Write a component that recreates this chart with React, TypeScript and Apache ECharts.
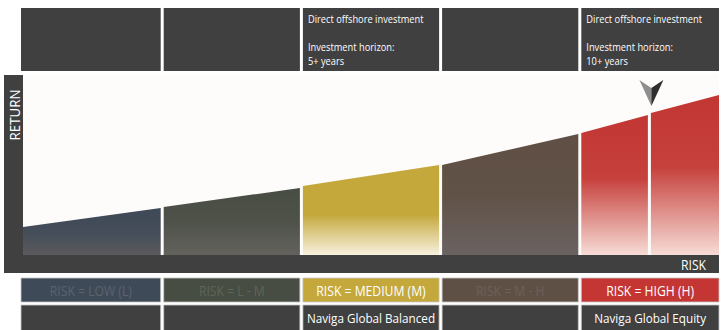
import React, { useEffect, useRef } from "react";
import * as echarts from "echarts";

// ---- data ----
const riskLabels = ["RISK = LOW (L)", "RISK = L - M", "RISK = MEDIUM (M)", "RISK = M - H", "RISK = HIGH (H)"];
const fundNames = ["", "", "Naviga Global Balanced", "", "Naviga Global Equity"];
const topNotes = [
  "",
  "",
  "Direct offshore investment\n\nInvestment horizon:\n5+ years",
  "",
  "Direct offshore investment\n\nInvestment horizon:\n10+ years",
];
const segStart = [0, 1, 2, 3, 4, 4.5];
const segEnd = [1, 2, 3, 4, 4.5, 5];
const returnStart = [28, 48, 69, 90, 122, 142];
const returnEnd = [47, 67, 90, 121, 140, 160];
const segBand = [0, 1, 2, 3, 4, 4];
const fundMarker = 4.5;
const yAxisName = "RETURN";
const xAxisName = "RISK";

// ---- styles / layout ----
const bandTop = ["#3e4857", "#484d43", "#c4a83c", "#5f4f44", "#c23633"];
const bandMid = ["#454e59", "#4e5249", "#c4a83c", "#615247", "#c6403c"];
const bandBottom = ["#5b5a5e", "#63625d", "#f8f1de", "#6a6262", "#f7dcd6"];
const bandMidStop = [0.55, 0.5, 0.55, 0.5, 0.45];
const labelBg = ["#3f4a58", "#474d43", "#c4a83c", "#5f5046", "#c43634"];
const labelFg = ["#5a6371", "#5e6558", "#ffffff", "#6e6058", "#ffffff"];
const DARK = "#404040";
const FONT = "'Open Sans', sans-serif";
const GL = 23, GT = 75, GW = 696, GH = 180;
const XMAX = 5, YMAX = 180;
const colW = GW / XMAX;
const NARROW = 0.87;

function colBox(i: number) {
  let x0 = GL + i * colW + 1.5;
  let x1 = GL + (i + 1) * colW - 1.5;
  if (i === 0) x0 = 21;
  if (i === XMAX - 1) x1 = 719;
  return { x: x0, w: x1 - x0 };
}

export default function App() {
  const ref = useRef<HTMLDivElement>(null);
  useEffect(() => {
    if (!ref.current) return;
    const chart = echarts.init(ref.current, undefined, { renderer: "svg" });
    const segData = segStart.map((s, i) => [s, segEnd[i], returnStart[i], returnEnd[i], segBand[i]]);

    const graphics: any[] = [];
    // y axis bar + name
    graphics.push({ type: "rect", shape: { x: 4, y: GT, width: GL - 4, height: GH + 18 }, style: { fill: DARK }, z: 10 });
    graphics.push({
      type: "text",
      x: 14,
      y: 115,
      rotation: Math.PI / 2,
      scaleX: 0.95,
      style: { text: yAxisName, fill: "#ffffff", font: `14px ${FONT}`, align: "center", verticalAlign: "middle" },
      z: 11,
    });
    // x axis bar + name
    graphics.push({ type: "rect", shape: { x: 4, y: GT + GH, width: 715, height: 18 }, style: { fill: DARK }, z: 10 });
    graphics.push({
      type: "text",
      x: 706,
      y: GT + GH + 10,
      scaleX: NARROW,
      style: { text: xAxisName, fill: "#ffffff", font: `14px ${FONT}`, align: "right", verticalAlign: "middle" },
      z: 11,
    });
    for (let i = 0; i < XMAX; i++) {
      const b = colBox(i);
      // top note boxes
      graphics.push({ type: "rect", shape: { x: b.x, y: 8, width: b.w, height: 63 }, style: { fill: DARK }, z: 5 });
      if (topNotes[i]) {
        graphics.push({
          type: "text",
          x: b.x + 5,
          y: 12,
          scaleX: 0.93,
          style: { text: topNotes[i], fill: "#ffffff", font: `10px ${FONT}`, lineHeight: 14, align: "left", verticalAlign: "top" },
          z: 6,
        });
      }
      // risk label boxes
      graphics.push({
        type: "rect",
        shape: { x: b.x, y: 278, width: b.w, height: 24 },
        style: { fill: labelBg[i], stroke: "#c8c8c8", lineWidth: 0.8 },
        z: 5,
      });
      graphics.push({
        type: "text",
        x: b.x + b.w / 2,
        y: 291,
        scaleX: NARROW,
        style: { text: riskLabels[i], fill: labelFg[i], font: `14px ${FONT}`, align: "center", verticalAlign: "middle" },
        z: 6,
      });
      // fund boxes
      graphics.push({
        type: "rect",
        shape: { x: b.x, y: 305, width: b.w, height: 26 },
        style: { fill: DARK, stroke: "#c8c8c8", lineWidth: 0.8 },
        z: 5,
      });
      if (fundNames[i]) {
        graphics.push({
          type: "text",
          x: b.x + b.w / 2,
          y: 318.5,
          scaleX: 0.9,
          style: { text: fundNames[i], fill: "#ffffff", font: `13px ${FONT}`, align: "center", verticalAlign: "middle" },
          z: 6,
        });
      }
    }
    // fund marker arrow
    const mx = GL + fundMarker * colW + 2;
    graphics.push({
      type: "polygon",
      shape: { points: [[mx - 12, 80], [mx, 88], [mx, 106]] },
      style: { fill: "#8e8e8e" },
      z: 12,
    });
    graphics.push({
      type: "polygon",
      shape: { points: [[mx + 12, 80], [mx, 88], [mx, 106]] },
      style: { fill: "#2e2e2e" },
      z: 12,
    });

    chart.setOption({
      animation: false,
      backgroundColor: "#ffffff",
      grid: { left: GL, top: GT, width: GW, height: GH, show: true, backgroundColor: "#fdfcfa", borderWidth: 0 },
      xAxis: { type: "value", min: 0, max: XMAX, show: false },
      yAxis: { type: "value", min: 0, max: YMAX, show: false },
      series: [
        {
          type: "custom",
          data: segData,
          clip: false,
          renderItem: (params: any, api: any) => {
            const x0 = api.value(0), x1 = api.value(1), y0 = api.value(2), y1 = api.value(3), band = api.value(4);
            const pL = api.coord([x0, y0]);
            const pR = api.coord([x1, y1]);
            const base = api.coord([x0, 0])[1];
            const lx = pL[0] + (x0 > 0 ? 1.5 : 0);
            const rx = pR[0] - (x1 < XMAX ? 1.5 : 0);
            return {
              type: "polygon",
              shape: { points: [[lx, pL[1]], [rx, pR[1]], [rx, base], [lx, base]] },
              style: {
                fill: new echarts.graphic.LinearGradient(0, 0, 0, 1, [
                  { offset: 0, color: bandTop[band] },
                  { offset: bandMidStop[band], color: bandMid[band] },
                  { offset: 1, color: bandBottom[band] },
                ]),
              },
            };
          },
        },
      ],
      graphic: graphics,
    });
    return () => chart.dispose();
  }, []);
  return <div ref={ref} style={{ position: "absolute", left: 0, top: 0, width: 725, height: 330 }} />;
}
